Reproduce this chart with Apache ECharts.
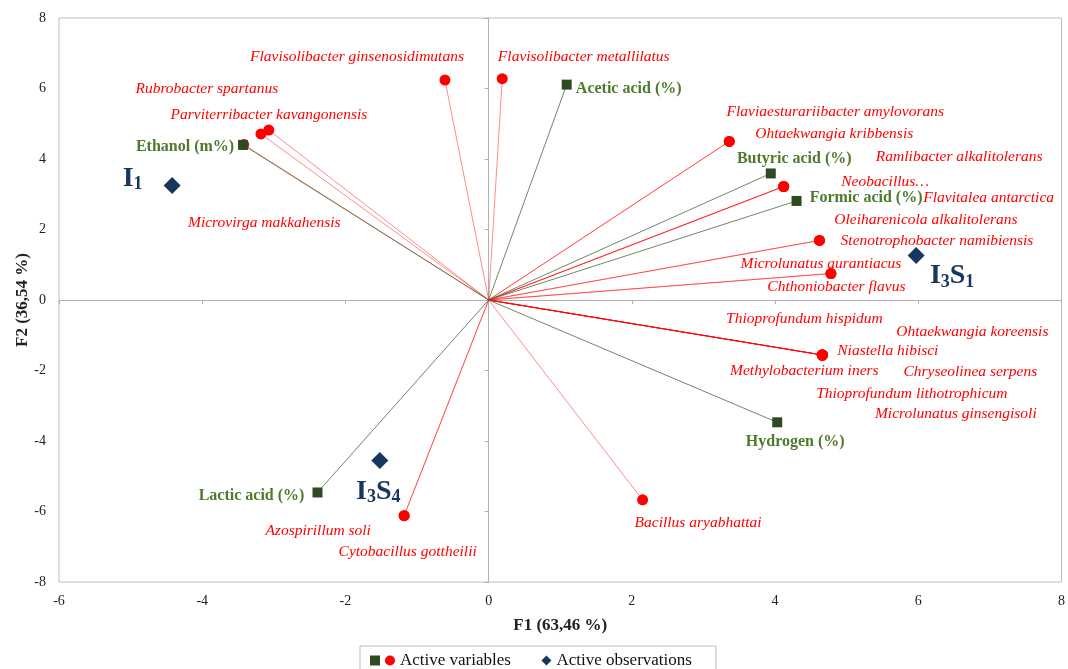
<!DOCTYPE html>
<html>
<head>
<meta charset="utf-8">
<title>PCA biplot F1 x F2</title>
<script src="https://cdn.jsdelivr.net/npm/echarts@6/dist/echarts.min.js"></script>
<style>
  html, body { margin: 0; padding: 0; background: #ffffff; }
  #chart { width: 1068px; height: 669px; }
</style>
</head>
<body>
<div id="chart"></div>
<script>
// Factor axis ticks
const axisMinF1 = -6, axisMaxF1 = 8, axisMinF2 = -8, axisMaxF2 = 8, axisStep = 2;

// Active variables: bacterial taxa (F1, F2 loadings)
const bacteriaNames = [
  'Flavisolibacter ginsenosidimutans',
  'Flavisolibacter metallilatus',
  'Rubrobacter spartanus',
  'Parviterribacter kavangonensis',
  'Microvirga makkahensis',
  'Flaviaesturariibacter amylovorans',
  'Ohtaekwangia kribbensis',
  'Ramlibacter alkalitolerans',
  'Neobacillus…',
  'Flavitalea antarctica',
  'Oleiharenicola alkalitolerans',
  'Stenotrophobacter namibiensis',
  'Microlunatus aurantiacus',
  'Chthoniobacter flavus',
  'Thioprofundum hispidum',
  'Ohtaekwangia koreensis',
  'Niastella hibisci',
  'Methylobacterium iners',
  'Chryseolinea serpens',
  'Thioprofundum lithotrophicum',
  'Microlunatus ginsengisoli',
  'Bacillus aryabhattai',
  'Azospirillum soli',
  'Cytobacillus gottheilii'
];
const bacteriaF1 = [-0.61, 0.19, -3.07, -3.18, -3.42, 3.36, 3.36, 4.12, 4.12, 4.12, 4.62, 4.62, 4.78, 4.78,
  4.66, 4.66, 4.66, 4.66, 4.66, 4.66, 4.66, 2.15, -1.18, -1.18];
const bacteriaF2 = [6.24, 6.28, 4.82, 4.71, 4.41, 4.50, 4.50, 3.22, 3.22, 3.22, 1.69, 1.69, 0.75, 0.75,
  -1.56, -1.56, -1.56, -1.56, -1.56, -1.56, -1.56, -5.67, -6.12, -6.12];

// Active variables: fermentation products
const productNames = ['Ethanol (m%)', 'Acetic acid (%)', 'Butyric acid (%)', 'Formic acid (%)', 'Hydrogen (%)', 'Lactic acid (%)'];
const productF1 = [-3.43, 1.09, 3.94, 4.30, 4.03, -2.39];
const productF2 = [4.40, 6.11, 3.59, 2.81, -3.47, -5.46];

// Active observations
const observationNames = ['I1', 'I3S1', 'I3S4'];
const observationF1 = [-4.42, 5.97, -1.52];
const observationF2 = [3.25, 1.26, -4.55];

// Label placement (pixel offsets from each marker's centre)
const bacteriaLabelOffsets = [
  [-88, -23.5], [81.5, -22], [-62, -41.5], [8, -19.5], [20.5, 78.5],
  [106, -29], [105, -7],
  [175.5, -30], [101.5, -5], [205, 11],
  [106.5, -21], [117.5, 0],
  [-10, -10], [5.5, 13],
  [-18, -36.5], [150, -23.5], [65.5, -4.5], [-18, 15.5], [148, 16.5], [89.5, 38.5], [133.5, 58.5],
  [55.5, 23],
  [-86, 15.5], [3.5, 36.5]
];
const productLabelOffsets = [[-58, 1.5], [62, 4], [23.5, -15], [69.5, -3.5], [18, 20], [-66, 3]];
const observationLabelOffsets = [[-39.5, -7], [36, 20.5], [-1.5, 31]];

const SERIF = 'Liberation Serif, Times New Roman, serif';
const RED = '#ff0000';
const GREEN_MARK = '#2d4a22';
const GREEN_TEXT = '#4f7a2c';
const NAVY = '#17375e';

function vectors(xs, ys) {
  return xs.map((x, i) => ({ coords: [[0, 0], [x, ys[i]]] }));
}
function points(names, xs, ys, offsets) {
  return names.map((n, i) => ({
    name: n,
    value: [xs[i], ys[i]],
    label: { offset: offsets[i] }
  }));
}
// "I3S1" -> large letters with subscript digits
function obsLabel(name) {
  return name.replace(/([A-Za-z]+)/g, '{m|$1}').replace(/(\d+)/g, '{s|$1}');
}

const chart = echarts.init(document.getElementById('chart'), null, { renderer: 'canvas' });

const tickLabel = { fontFamily: SERIF, fontSize: 14, color: '#222' };
const zeroLine = { color: '#b0b0b0', width: 1 };

chart.setOption({
  animation: false,
  backgroundColor: '#ffffff',
  grid: {
    left: 59, right: 4, top: 18, bottom: 87,
    show: true, borderColor: '#bdbdbd', borderWidth: 1
  },
  xAxis: [
    {
      type: 'value', min: axisMinF1, max: axisMaxF1, interval: axisStep, position: 'bottom',
      axisLine: { show: false, onZero: false }, axisTick: { show: false }, splitLine: { show: false },
      axisLabel: Object.assign({ margin: 12 }, tickLabel),
      name: 'F1 (63,46 %)', nameLocation: 'middle', nameGap: 35, nameMoveOverlap: false,
      nameTextStyle: { fontFamily: SERIF, fontSize: 17, fontWeight: 'bold', color: '#222' }
    },
    {
      type: 'value', min: axisMinF1, max: axisMaxF1, interval: axisStep, position: 'bottom',
      axisLine: { show: true, onZero: true, onZeroAxisIndex: 0, lineStyle: zeroLine },
      axisTick: { show: true, length: 4, lineStyle: zeroLine },
      axisLabel: { show: false }, splitLine: { show: false }
    }
  ],
  yAxis: [
    {
      type: 'value', min: axisMinF2, max: axisMaxF2, interval: axisStep, position: 'left',
      axisLine: { show: false, onZero: false }, axisTick: { show: false }, splitLine: { show: false },
      axisLabel: Object.assign({ margin: 13 }, tickLabel),
      name: 'F2 (36,54 %)', nameLocation: 'middle', nameGap: 28, nameMoveOverlap: false,
      nameTextStyle: { fontFamily: SERIF, fontSize: 17, fontWeight: 'bold', color: '#222' }
    },
    {
      type: 'value', min: axisMinF2, max: axisMaxF2, interval: axisStep, position: 'left',
      axisLine: { show: true, onZero: true, onZeroAxisIndex: 0, lineStyle: zeroLine },
      axisTick: { show: true, length: 4, lineStyle: zeroLine },
      axisLabel: { show: false }, splitLine: { show: false }
    }
  ],
  legend: {
    left: 360, top: 646,
    padding: [6, 24, 6, 10],
    borderColor: '#bdbdbd', borderWidth: 1,
    itemWidth: 10, itemHeight: 10, itemGap: 5,
    data: [
      { name: 'Fermentation products', icon: 'rect' },
      { name: 'Active variables', icon: 'circle' },
      { name: 'Active observations', icon: 'diamond' }
    ],
    formatter: function (name) {
      if (name === 'Fermentation products') return '';
      if (name === 'Active variables') return 'Active variables' + '\u00a0'.repeat(6);
      return name;
    },
    textStyle: { fontFamily: SERIF, fontSize: 17, color: '#111' },
    selectedMode: false
  },
  series: [
    {
      name: 'bacteria vectors', type: 'lines', coordinateSystem: 'cartesian2d',
      xAxisIndex: 0, yAxisIndex: 0, silent: true, z: 1,
      lineStyle: { color: RED, width: 1, opacity: 0.45, curveness: 0 },
      data: vectors(bacteriaF1, bacteriaF2)
    },
    {
      name: 'product vectors', type: 'lines', coordinateSystem: 'cartesian2d',
      xAxisIndex: 0, yAxisIndex: 0, silent: true, z: 1,
      lineStyle: { color: '#4d6a3c', width: 1, opacity: 0.8, curveness: 0 },
      data: vectors(productF1, productF2)
    },
    {
      name: 'Active variables', type: 'scatter', xAxisIndex: 0, yAxisIndex: 0, z: 3,
      symbol: 'circle', symbolSize: 11,
      itemStyle: { color: RED, opacity: 1 },
      label: {
        show: true, position: 'inside', formatter: '{b}',
        fontFamily: SERIF, fontStyle: 'italic', fontSize: 15.5, color: RED
      },
      data: points(bacteriaNames, bacteriaF1, bacteriaF2, bacteriaLabelOffsets)
    },
    {
      name: 'Fermentation products', type: 'scatter', xAxisIndex: 0, yAxisIndex: 0, z: 4,
      symbol: 'rect', symbolSize: 10,
      itemStyle: { color: GREEN_MARK, opacity: 1 },
      label: {
        show: true, position: 'inside', formatter: '{b}',
        fontFamily: SERIF, fontWeight: 'bold', fontSize: 16, color: GREEN_TEXT
      },
      data: points(productNames, productF1, productF2, productLabelOffsets)
    },
    {
      name: 'Active observations', type: 'scatter', xAxisIndex: 0, yAxisIndex: 0, z: 5,
      symbol: 'diamond', symbolSize: 17,
      itemStyle: { color: NAVY, opacity: 1 },
      label: {
        show: true, position: 'inside',
        formatter: function (p) { return obsLabel(p.name); },
        rich: {
          m: { fontFamily: SERIF, fontWeight: 'bold', fontSize: 28, color: NAVY, lineHeight: 30 },
          s: { fontFamily: SERIF, fontWeight: 'bold', fontSize: 18, color: NAVY, lineHeight: 12, verticalAlign: 'bottom' }
        }
      },
      data: points(observationNames, observationF1, observationF2, observationLabelOffsets)
    }
  ]
});
</script>
</body>
</html>
